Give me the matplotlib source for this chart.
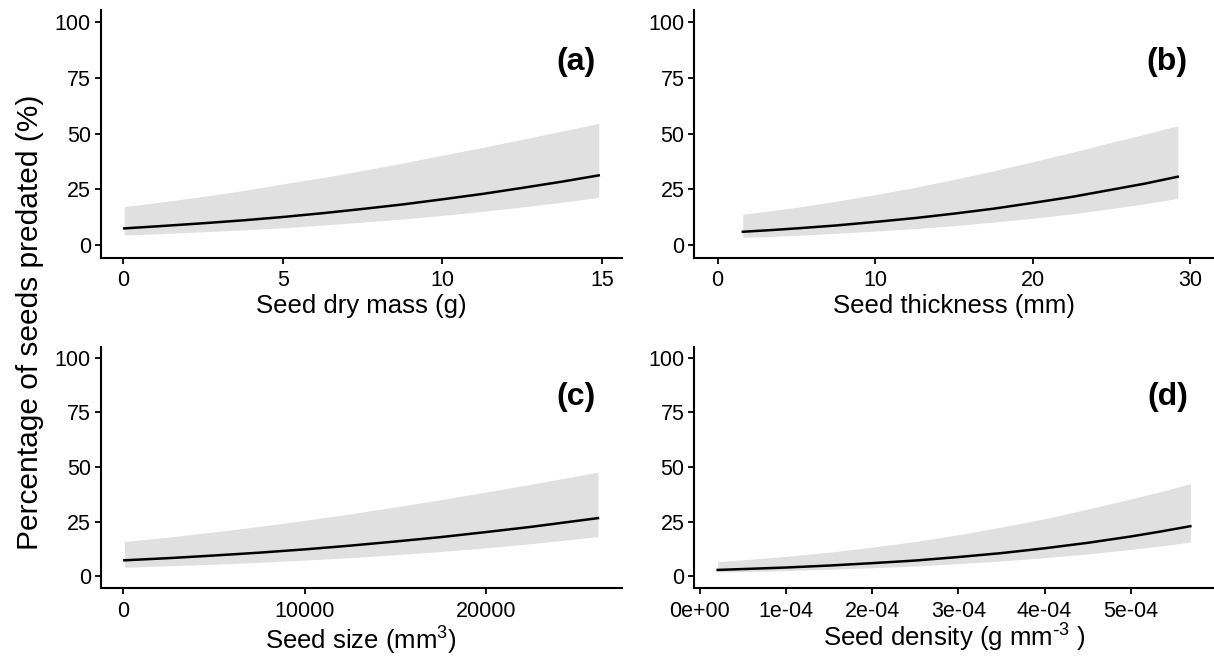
import numpy as np
import matplotlib
matplotlib.use("Agg")
import matplotlib.pyplot as plt

plt.rcParams['font.family'] = ['Liberation Sans', 'DejaVu Sans']
plt.rcParams['mathtext.default'] = 'regular'

# values (percent predated)
mass_x = [0.03, 1.25, 2.5, 3.75, 5, 6.25, 7.5, 8.75, 10, 11.25, 12.5, 13.75, 14.9]
mass_fit = [7.6, 8.7, 9.9, 11.2, 12.7, 14.4, 16.3, 18.3, 20.6, 23.0, 25.7, 28.5, 31.3]
mass_lo = [4.6, 5.3, 6.1, 6.9, 7.9, 9.1, 10.4, 11.8, 13.4, 15.2, 17.2, 19.3, 21.5]
mass_hi = [17.3, 19.5, 21.9, 24.5, 27.5, 30.3, 33.5, 36.8, 40.3, 43.8, 47.4, 51.1, 54.5]

thick_x = [1.6, 3.3, 5, 7.5, 10, 12.5, 15, 17.5, 20, 22.5, 25, 27.1, 29.2]
thick_fit = [6.1, 6.8, 7.6, 8.9, 10.5, 12.2, 14.2, 16.4, 19.0, 21.7, 24.9, 27.6, 30.7]
thick_lo = [3.6, 4.0, 4.5, 5.4, 6.4, 7.5, 8.8, 10.4, 12.1, 14.1, 16.5, 18.6, 21.0]
thick_hi = [13.9, 15.4, 17.0, 19.7, 22.7, 25.9, 29.5, 33.3, 37.4, 41.6, 46.1, 49.7, 53.5]

size_x = [50, 2500, 5000, 7500, 10000, 12500, 15000, 17500, 20000, 22500, 26200]
size_fit = [7.3, 8.3, 9.5, 10.8, 12.3, 14.0, 15.9, 17.9, 20.2, 22.6, 26.6]
size_lo = [4.1, 4.8, 5.5, 6.4, 7.4, 8.5, 9.9, 11.3, 13.0, 14.9, 18.1]
size_hi = [15.9, 17.9, 20.3, 22.8, 25.6, 28.5, 31.7, 35.0, 38.5, 42.1, 47.6]

dens_x = [0.21e-4, 0.5e-4, 1e-4, 1.5e-4, 2e-4, 2.5e-4, 3e-4, 3.5e-4, 4e-4,
          4.5e-4, 5e-4, 5.35e-4, 5.69e-4]
dens_fit = [2.9, 3.3, 4.0, 4.9, 6.0, 7.2, 8.8, 10.6, 12.8, 15.3, 18.2, 20.5, 22.9]
dens_lo = [1.9, 2.1, 2.6, 3.2, 3.9, 4.7, 5.8, 7.0, 8.5, 10.2, 12.3, 13.9, 15.6]
dens_hi = [6.7, 7.5, 9.1, 11.0, 13.3, 15.9, 19.0, 22.5, 26.3, 30.7, 35.4, 38.8, 42.3]

y_ticks = [0, 25, 50, 75, 100]

panels = [
    dict(x=mass_x, fit=mass_fit, lo=mass_lo, hi=mass_hi, tag='(a)',
         xlabel='Seed dry mass (g)', xticks=[0, 5, 10, 15],
         xticklabels=['0', '5', '10', '15'], xlim=(-0.71, 15.62),
         rect=[100.7, 10.5, 621.7, 257.7], label_y=-0.222),
    dict(x=thick_x, fit=thick_fit, lo=thick_lo, hi=thick_hi, tag='(b)',
         xlabel='Seed thickness (mm)', xticks=[0, 10, 20, 30],
         xticklabels=['0', '10', '20', '30'], xlim=(-1.5, 31.5),
         rect=[694, 10.5, 1214, 257.7], label_y=-0.222),
    dict(x=size_x, fit=size_fit, lo=size_lo, hi=size_hi, tag='(c)',
         xlabel='Seed size (mm$^3$)', xticks=[0, 10000, 20000],
         xticklabels=['0', '10000', '20000'], xlim=(-1258, 27508),
         rect=[100.7, 346.7, 621.7, 588.3], label_y=-0.254),
    dict(x=dens_x, fit=dens_fit, lo=dens_lo, hi=dens_hi, tag='(d)',
         xlabel=r'Seed density (g mm$^{\text{-}3}$ )',
         xticks=[0, 1e-4, 2e-4, 3e-4, 4e-4, 5e-4],
         xticklabels=['0e+00', '1e-04', '2e-04', '3e-04', '4e-04', '5e-04'],
         xlim=(-0.064e-4, 5.964e-4),
         rect=[694, 346.7, 1214, 588.3], label_y=-0.242),
]

W, H = 1214, 656
fig = plt.figure(figsize=(W / 100, H / 100), dpi=100)

for p in panels:
    l, t, r, b = p['rect']
    ax = fig.add_axes([l / W, (H - b) / H, (r - l) / W, (b - t) / H])
    ax.fill_between(p['x'], p['lo'], p['hi'], color='#e0e0e0', lw=0)
    ax.plot(p['x'], p['fit'], color='black', lw=1.8)
    ax.set_xlim(*p['xlim'])
    ax.set_ylim(-5.5, 105)
    ax.set_yticks(y_ticks)
    ax.set_yticklabels([str(v) for v in y_ticks])
    ax.set_xticks(p['xticks'])
    ax.set_xticklabels(p['xticklabels'])
    for s in ['top', 'right']:
        ax.spines[s].set_visible(False)
    for s in ['left', 'bottom']:
        ax.spines[s].set_linewidth(1.5)
    ax.tick_params(length=4, width=1.3, labelsize=15.5, colors='black')
    ax.tick_params(axis='x', pad=5)
    ax.tick_params(axis='y', pad=3)
    ax.set_xlabel(p['xlabel'], fontsize=18.5, va='baseline')
    ax.xaxis.set_label_coords(0.5, p['label_y'])
    ax.text(0.95, 0.79, p['tag'], transform=ax.transAxes, ha='right',
            va='center', fontsize=23, fontweight='bold')

fig.text(30 / W, (H - 322) / H, 'Percentage of seeds predated (%)',
         rotation=90, ha='center', va='center', fontsize=21.5)

fig.savefig('out.png', dpi=100)
